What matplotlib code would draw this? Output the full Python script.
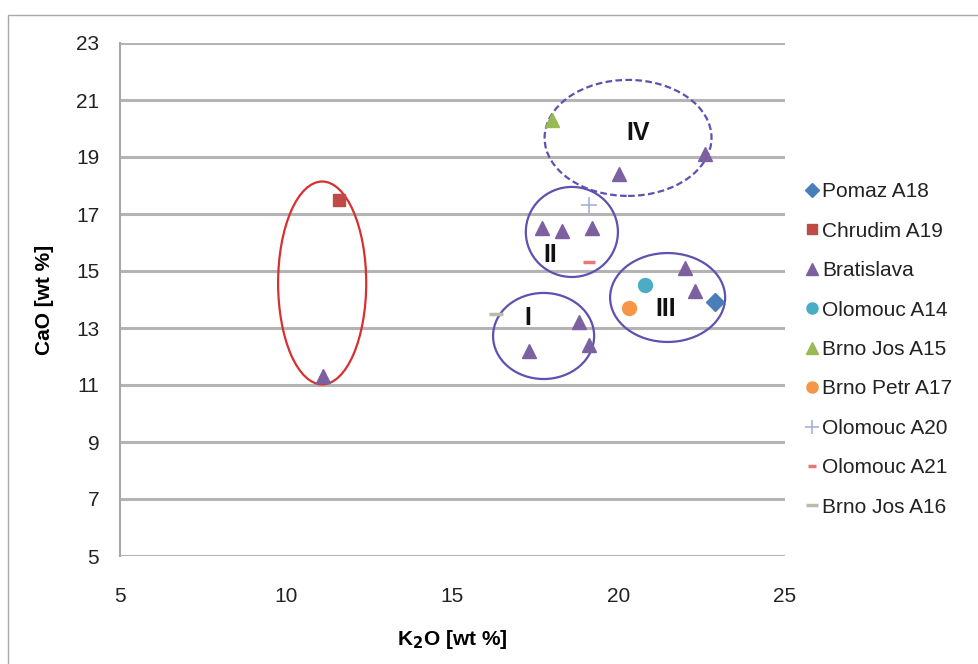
import matplotlib
matplotlib.use("Agg")
import matplotlib.pyplot as plt
from matplotlib.patches import Ellipse, Rectangle

plt.rcParams['font.family'] = ['Liberation Sans', 'DejaVu Sans']

# ---- data ----
pomaz_x = [22.9]; pomaz_y = [13.9]
chrudim_x = [11.6]; chrudim_y = [17.5]
brat_x = [11.1, 20.0, 22.6, 17.7, 18.3, 19.2, 22.0, 22.3, 18.8, 17.3, 19.1]
brat_y = [11.3, 18.4, 19.1, 16.5, 16.4, 16.5, 15.1, 14.3, 13.2, 12.2, 12.4]
olo14_x = [20.8]; olo14_y = [14.5]
brnojos15_x = [18.0]; brnojos15_y = [20.3]
brnopetr17_x = [20.3]; brnopetr17_y = [13.7]
olo20_x = [19.1]; olo20_y = [17.3]
olo21_x = [19.1]; olo21_y = [15.3]
brnojos16_x = [16.3]; brnojos16_y = [13.5]

series_names = ["Pomaz A18", "Chrudim A19", "Bratislava", "Olomouc A14", "Brno Jos A15",
                "Brno Petr A17", "Olomouc A20", "Olomouc A21", "Brno Jos A16"]

group_labels = ["IV", "II", "I", "III"]
group_label_x = [20.58, 17.93, 17.27, 21.42]
group_label_y = [19.85, 15.55, 13.35, 13.65]

x_ticks = [5, 10, 15, 20, 25]
y_ticks = [5, 7, 9, 11, 13, 15, 17, 19, 21, 23]

fig = plt.figure(figsize=(9.79, 6.64), dpi=100)
fig.patch.set_facecolor('white')
# outer frame
fig.patches.append(Rectangle((8/979, -0.05), 1.2, 1 - 15/664 + 0.05, transform=fig.transFigure,
                             fill=False, edgecolor='#a8a8a8', linewidth=1.0, figure=fig))

ax = fig.add_axes([120/979, 1 - 556/664, 665/979, 513/664])
ax.set_xlim(5, 25)
ax.set_ylim(5, 23)
ax.set_xticks(x_ticks)
ax.set_yticks(y_ticks)
ax.tick_params(length=0, labelsize=15, colors='#222222')
ax.tick_params(axis='x', pad=22)
ax.tick_params(axis='y', pad=15)
for s in ['top', 'right', 'bottom']:
    ax.spines[s].set_visible(False)
ax.spines['left'].set_color('#a8a8a8')
ax.spines['left'].set_linewidth(1.5)
ax.yaxis.grid(True, color='#b4b4b4', linewidth=2.2)
ax.set_axisbelow(True)

ax.set_xlabel("K$_\\mathbf{2}$O [wt %]", fontsize=15, fontweight='bold', labelpad=16)
ax.set_ylabel("CaO [wt %]", fontsize=15, fontweight='bold', labelpad=16)

ms = 10
ax.plot(pomaz_x, pomaz_y, 'D', color='#4a7ebb', ms=9, ls='none', label=series_names[0])
ax.plot(chrudim_x, chrudim_y, 's', color='#be4b48', ms=9, ls='none', label=series_names[1])
ax.plot(brat_x, brat_y, '^', color='#7d60a0', ms=ms, ls='none', label=series_names[2])
ax.plot(olo14_x, olo14_y, 'o', color='#4bacc6', ms=ms, ls='none', label=series_names[3])
ax.plot(brnojos15_x, brnojos15_y, '^', color='#98b954', ms=ms, ls='none', label=series_names[4])
ax.plot(brnopetr17_x, brnopetr17_y, 'o', color='#f79646', ms=ms, ls='none', label=series_names[5])
ax.plot(olo20_x, olo20_y, '+', color='#a8b0d8', ms=12, mew=1.2, ls='none', label=series_names[6])
ax.plot(olo21_x, olo21_y, '_', color='#e87878', ms=8, mew=2.5, ls='none', label=series_names[7])
ax.plot(brnojos16_x, brnojos16_y, '_', color='#b8bca8', ms=10, mew=2.5, ls='none', label=series_names[8])

# ellipses
purple = '#6050b0'
ax.add_patch(Ellipse((11.08, 14.58), 2.65, 7.12, fill=False, edgecolor='#d83030', lw=1.6))
ax.add_patch(Ellipse((18.59, 16.37), 2.77, 3.16, fill=False, edgecolor=purple, lw=1.6))
ax.add_patch(Ellipse((17.74, 12.72), 3.04, 3.02, fill=False, edgecolor=purple, lw=1.6))
ax.add_patch(Ellipse((21.47, 14.07), 3.46, 3.12, fill=False, edgecolor=purple, lw=1.6))
ax.add_patch(Ellipse((20.28, 19.67), 5.02, 4.07, fill=False, edgecolor=purple, lw=1.6,
                     linestyle=(0, (3, 1.5))))

for lab, lx, ly in zip(group_labels, group_label_x, group_label_y):
    ax.text(lx, ly, lab, fontsize=18, fontweight='bold', ha='center', va='center', color='#111111')

leg = fig.legend(loc='upper left', bbox_to_anchor=(797/979, 1 - 174/664), frameon=False,
                 fontsize=15, handlelength=0.6, handletextpad=0.2, labelspacing=0.98,
                 borderaxespad=0, markerscale=0.8)
for t in leg.get_texts():
    t.set_color('#222222')

fig.savefig('out.png', dpi=100, facecolor='white')
